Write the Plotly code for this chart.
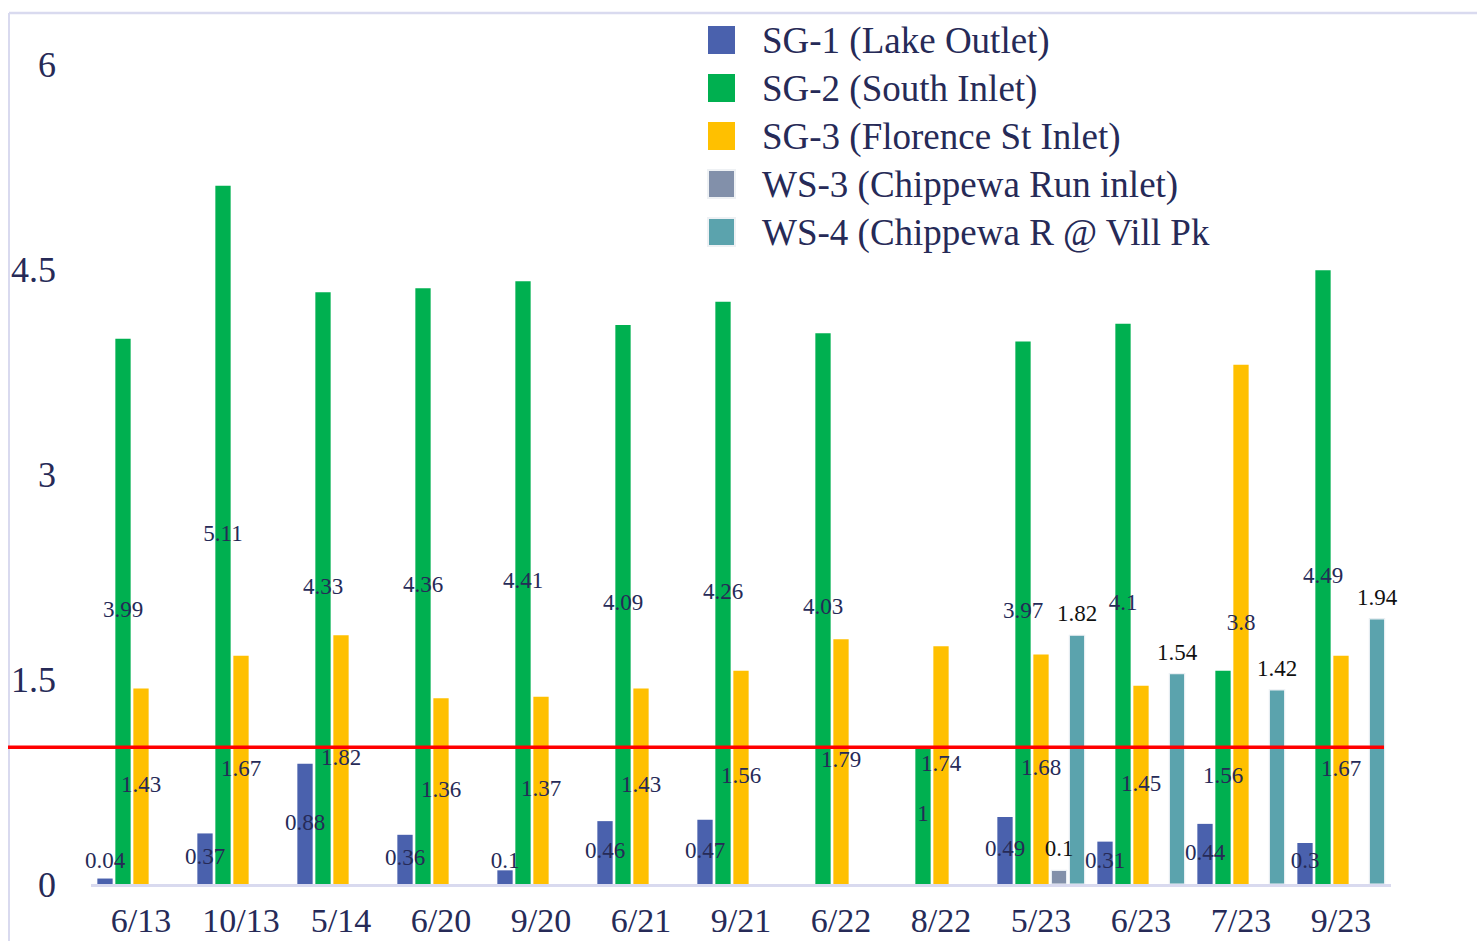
import plotly.graph_objects as go

# ---------------- data ----------------
categories = ["6/13", "10/13", "5/14", "6/20", "9/20", "6/21", "9/21",
              "6/22", "8/22", "5/23", "6/23", "7/23", "9/23"]
sg1 = [0.04, 0.37, 0.88, 0.36, 0.1, 0.46, 0.47, None, None, 0.49, 0.31, 0.44, 0.3]
sg2 = [3.99, 5.11, 4.33, 4.36, 4.41, 4.09, 4.26, 4.03, 1, 3.97, 4.1, 1.56, 4.49]
sg3 = [1.43, 1.67, 1.82, 1.36, 1.37, 1.43, 1.56, 1.79, 1.74, 1.68, 1.45, 3.8, 1.67]
ws3 = [None, None, None, None, None, None, None, None, None, 0.1, None, None, None]
ws4 = [None, None, None, None, None, None, None, None, None, 1.82, 1.54, 1.42, 1.94]

series_names = ["SG-1 (Lake Outlet)", "SG-2 (South Inlet)", "SG-3 (Florence St Inlet)",
                "WS-3 (Chippewa Run inlet)", "WS-4 (Chippewa R @ Vill Pk"]
series_values = [sg1, sg2, sg3, ws3, ws4]
series_colors = ["#4A61AD", "#00B050", "#FFC000", "#8290AA", "#5BA3AD"]
label_inside = [True, True, True, False, False]
label_colors = ["#262A57", "#262A57", "#262A57", "#111111", "#111111"]

threshold = 1.0
y_ticks = [0, 1.5, 3, 4.5, 6]
y_tick_text = ["0", "1.5", "3", "4.5", "6"]

# ---------------- layout geometry (pixels) ----------------
W, H = 1477, 941
PL, PR, PT, PB = 91, 1391, 23, 884
YMAX = 6.3
FONT = "Liberation Serif, Times New Roman, serif"
TXT = "#262A57"


def px_x(p):
    return (p - PL) / (PR - PL)


def px_y(p):
    return (PB - p) / (PB - PT)


fig = go.Figure()

for name, vals, col, inside in zip(series_names, series_values, series_colors, label_inside):
    fig.add_trace(go.Bar(
        x=categories, y=vals, name=name, offsetgroup=name,
        marker=dict(color=col,
                    line=dict(width=1.2 if not inside else 0,
                              color="rgba(235,240,244,1)")),
        showlegend=False, hoverinfo="x+y",
    ))

min_label = 0.16
above_pad = 0.06
for name, vals, inside, lc in zip(series_names, series_values, label_inside, label_colors):
    if inside:
        ys = [None if v is None else max(v / 2, min_label) for v in vals]
        pos = "middle center"
    else:
        ys = [None if v is None else v + above_pad for v in vals]
        pos = "top center"
    texts = ["" if v is None else f"{v:g}" for v in vals]
    fig.add_trace(go.Scatter(
        x=categories, y=ys, text=texts, mode="text", textposition=pos,
        textfont=dict(family=FONT, size=23, color=lc),
        offsetgroup=name, showlegend=False, hoverinfo="skip", cliponaxis=False,
    ))

shapes = []
# frame lines (top & left)
frame_col = "#D9DAEF"
shapes.append(dict(type="line", xref="paper", yref="paper",
                   x0=px_x(9), x1=px_x(W + 5), y0=px_y(13), y1=px_y(13),
                   line=dict(color=frame_col, width=2.5)))
shapes.append(dict(type="line", xref="paper", yref="paper",
                   x0=px_x(9), x1=px_x(9), y0=px_y(13), y1=px_y(H + 5),
                   line=dict(color=frame_col, width=2)))
# threshold line
shapes.append(dict(type="line", xref="paper", yref="y",
                   x0=px_x(8), x1=px_x(1384), y0=threshold, y1=threshold,
                   line=dict(color="#FF0000", width=3.5)))

# manual legend
annotations = []
row_centers = [40, 88, 136, 184, 232]
for name, col, cy, inside in zip(series_names, series_colors, row_centers, label_inside):
    shapes.append(dict(type="rect", xref="paper", yref="paper",
                       x0=px_x(708), x1=px_x(735), y0=px_y(cy - 14), y1=px_y(cy + 14),
                       fillcolor=col,
                       line=dict(width=0 if inside else 2, color="#EEF1F4")))
    annotations.append(dict(xref="paper", yref="paper", x=px_x(760), y=px_y(cy + 1),
                            xanchor="left", yanchor="middle", text=name, showarrow=False,
                            font=dict(family=FONT, size=37, color=TXT)))

fig.update_layout(
    width=W, height=H,
    margin=dict(l=PL, r=W - PR, t=PT, b=H - PB, autoexpand=False),
    paper_bgcolor="white", plot_bgcolor="white",
    barmode="group", bargap=0.1, bargroupgap=0.15,
    scattermode="group", scattergap=0.1,
    font=dict(family=FONT, color=TXT),
    shapes=shapes, annotations=annotations,
    showlegend=False,
    xaxis=dict(type="category", showgrid=False, showline=True, linecolor="#D9DAEF",
               linewidth=2.5, ticks="", tickfont=dict(family=FONT, size=34, color=TXT),
               ticklabelstandoff=4, automargin=False, zeroline=False),
    yaxis=dict(range=[0, YMAX], tickvals=y_ticks, ticktext=y_tick_text, showgrid=False,
               showline=False, zeroline=False, ticks="",
               tickfont=dict(family=FONT, size=36, color=TXT),
               ticklabelstandoff=34, automargin=False),
)

fig.write_html("out.html", config={"displayModeBar": False},
               post_script="document.body.style.margin='0';document.body.style.overflow='hidden';")
